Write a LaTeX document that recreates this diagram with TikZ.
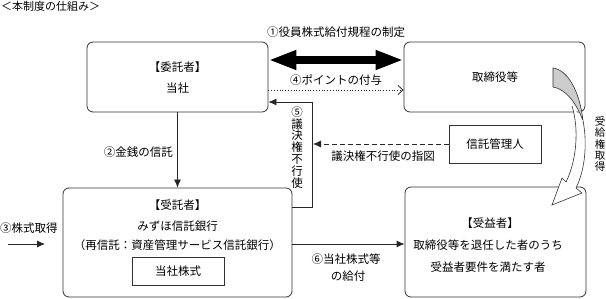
\documentclass[tikz,border=0pt]{standalone}
\usepackage{fontspec}
\setmainfont{Noto Sans CJK JP}
\usetikzlibrary{arrows.meta}
\begin{document}
\begin{tikzpicture}[x=1pt,y=-1pt,
  font=\fontsize{11.5}{14}\selectfont,
  box/.style={draw=black!80, line width=0.8pt, rounded corners=6pt, inner sep=0pt},
  plainbox/.style={draw=black!80, line width=0.8pt, inner sep=0pt},
  txt/.style={inner sep=0pt, text=black},
  vtxt/.style={inner sep=0pt, text=black, align=center},
  conn/.style={draw=black!85, line width=0.8pt},
  solidarrow/.style={conn, -{Latex[length=8pt,width=7pt]}},
  dottedarrow/.style={conn, dotted, -{Straight Barb[length=5pt,width=9pt]}},
  dashedarrow/.style={conn, dashed, dash pattern=on 5pt off 3pt, -{Latex[length=8pt,width=7pt]}},
  bigarrow/.style={draw=black, line width=8pt, {Triangle[length=28pt 0,width=18pt 0]}-{Triangle[length=28pt 0,width=18pt 0]}}
]
\useasboundingbox (0,0) rectangle (606,299);

% title
\node[txt, anchor=west, font=\fontsize{11}{13}\selectfont] (title) at (1,6) {＜本制度の仕組み＞};

% boxes
\node[box, minimum width=181pt, minimum height=70pt] (itaku) at (177.5,77) {};
\node[txt] (itakuA) at (177.5,67) {【委託者】};
\node[txt] (itakuB) at (177.5,88) {当社};

\node[box, minimum width=181pt, minimum height=70pt] (tori) at (494.5,77) {};
\node[txt] (toriA) at (495,77) {取締役等};

\node[plainbox, minimum width=92pt, minimum height=38pt] (kanri) at (495,144) {};
\node[txt] (kanriA) at (495,144) {信託管理人};

\node[box, minimum width=229pt, minimum height=109pt] (jutaku) at (177.5,242.5) {};
\node[txt] (jutakuA) at (177.5,205) {【受託者】};
\node[txt] (jutakuB) at (177.5,226) {みずほ信託銀行};
\node[txt] (jutakuC) at (177.5,245) {（再信託：資産管理サービス信託銀行）};
\node[plainbox, minimum width=92pt, minimum height=28pt] (stock) at (178,271) {};
\node[txt] (stockA) at (178,271) {当社株式};

\node[box, minimum width=181pt, minimum height=110pt] (juueki) at (495.5,242) {};
\node[txt] (juuekiA) at (490,223) {【受益者】};
\node[txt] (juuekiB) at (488,245) {取締役等を退任した者のうち};
\node[txt] (juuekiC) at (488,267) {受益者要件を満たす者};

% connectors
\draw[bigarrow] ([yshift=17pt]itaku.east) -- ([yshift=17pt]tori.west);
\node[txt] (l1) at (336,32) {①役員株式給付規程の制定};

\draw[dottedarrow] ([yshift=-13pt]itaku.east) -- ([yshift=-13pt]tori.west);
\node[txt] (l4) at (336,80) {④ポイントの付与};

\coordinate (c5) at (312,102);
\coordinate (c5b) at (313,144);
\draw[solidarrow] ([yshift=35.5pt]jutaku.east) -| (c5) -- ([yshift=-25pt]itaku.east);
\node[vtxt, font=\fontsize{11.5}{11.9}\selectfont] (l5) at (297,147.5) {⑤\\議\\決\\権\\不\\行\\使};

\draw[dashedarrow] (kanri.west) -- (c5b);
\node[txt] (lsz) at (383,156) {議決権不行使の指図};

\draw[solidarrow] (itaku.south) -- (itaku.south |- jutaku.north);
\node[txt, anchor=east] (l2) at (173,152) {②金銭の信託};

\coordinate (s3) at (8,244);
\coordinate (e3) at (45,244);
\draw[solidarrow] (s3) -- (e3);
\node[txt] (l3) at (29,228) {③株式取得};

\draw[solidarrow] (jutaku.east |- 0,244) -- (juueki.west |- 0,244);
\node[txt] (l6a) at (346,259) {⑥当社株式等};
\node[txt] (l6b) at (348,276) {の給付};

% curved arrow
\filldraw[fill=black!20, draw=black!80, line width=0.6pt]
  (553,68) .. controls (568,70) and (580,92) .. (583,121)
  .. controls (577,104) and (566,89) .. (553,87) -- cycle;
\fill[white]
  (572,106) .. controls (579,128) and (577,160) .. (566,182) -- (562,178) -- (552,205) -- (582,193) -- (576,188)
  .. controls (586,168) and (587,140) .. (583,121) -- cycle;
\draw[black!80, line width=0.6pt]
  (572,106) .. controls (579,128) and (577,160) .. (566,182) -- (562,178) -- (552,205) -- (582,193) -- (576,188)
  .. controls (586,168) and (587,140) .. (583,121);
\node[vtxt, font=\fontsize{10.5}{11.3}\selectfont] (lju) at (600,144) {受\\給\\権\\取\\得};
\end{tikzpicture}
\end{document}
